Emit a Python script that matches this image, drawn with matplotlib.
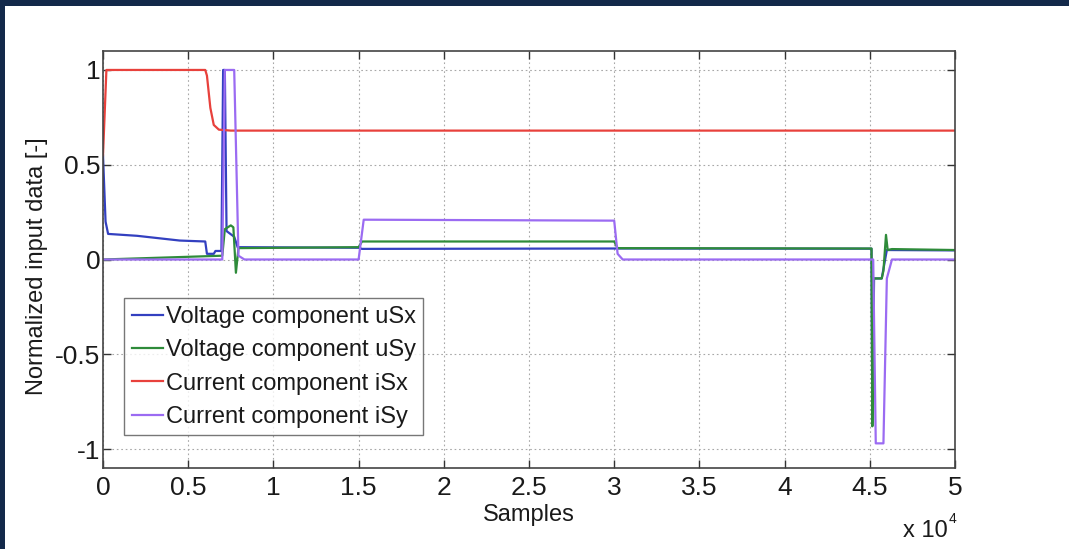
import numpy as np
import matplotlib.pyplot as plt
from matplotlib.patches import Rectangle

plt.rcParams['font.family'] = ['Liberation Sans', 'DejaVu Sans']

# breakpoints (x in samples)
usx_x = [0, 150, 300, 2000, 3500, 4500, 6000, 6100, 6500, 6600, 6950, 7050, 7150, 7250, 7700, 7900,
         15000, 15200, 30000, 45100, 45150, 45250, 45700, 46000, 50000]
usx_y = [0.55, 0.2, 0.135, 0.125, 0.11, 0.10, 0.095, 0.03, 0.03, 0.045, 0.045, 1.0, 1.0, 0.15, 0.12, 0.065,
         0.062, 0.056, 0.058, 0.057, -0.86, -0.1, -0.1, 0.05, 0.048]

usy_x = [0, 7000, 7150, 7500, 7650, 7800, 7950, 15000, 15200, 30000, 30200, 45100, 45150, 45220,
         45700, 45800, 45950, 46050, 46300, 50000]
usy_y = [0.0, 0.02, 0.16, 0.18, 0.17, -0.07, 0.06, 0.065, 0.095, 0.095, 0.06, 0.058, -0.88, -0.1,
         -0.1, -0.06, 0.13, 0.05, 0.055, 0.05]

isx_x = [0, 200, 6000, 6100, 6300, 6500, 6800, 7500, 50000]
isx_y = [0.55, 1.0, 1.0, 0.97, 0.8, 0.71, 0.685, 0.68, 0.68]

isy_x = [0, 7000, 7150, 7700, 7950, 8300, 15000, 15300, 30000, 30200, 30500, 45200, 45350, 45800,
         46000, 46300, 50000]
isy_y = [0, 0, 1.0, 1.0, 0.02, 0.0, 0, 0.21, 0.205, 0.03, 0.0, 0, -0.97, -0.97, -0.1, 0, 0]

labels = ['Voltage component uSx', 'Voltage component uSy',
          'Current component iSx', 'Current component iSy']
colors = ['#3340c0', '#2e8b3a', '#e8413c', '#9b6bf2']

xticks = [0, 5000, 10000, 15000, 20000, 25000, 30000, 35000, 40000, 45000, 50000]
xticklabels = ['0', '0.5', '1', '1.5', '2', '2.5', '3', '3.5', '4', '4.5', '5']
yticks = [-1, -0.5, 0, 0.5, 1]
yticklabels = ['-1', '-0.5', '0', '0.5', '1']

fig = plt.figure(figsize=(10.69, 5.49), dpi=100, facecolor='#13294a')
fig.patches.append(Rectangle((5/1069, 0), 1, 543/549, transform=fig.transFigure,
                             facecolor='white', edgecolor='none', zorder=-10))

ax = fig.add_axes([103/1069, 81/549, 852/1069, 417/549])
ax.set_zorder(5)
for xs, ys, c, lab in zip([usx_x, usy_x, isx_x, isy_x], [usx_y, usy_y, isx_y, isy_y], colors, labels):
    ax.plot(xs, ys, color=c, lw=1.6, label=lab)

ax.set_xlim(0, 50000)
ax.set_ylim(-1.1, 1.1)
ax.set_xticks(xticks)
ax.set_xticklabels(xticklabels)
ax.set_yticks(yticks)
ax.set_yticklabels(yticklabels)
ax.tick_params(direction='in', length=6, width=1, top=True, right=True,
               labelsize=19, colors='#333333', labelcolor='#1a1a1a')
ax.tick_params(axis='x', pad=6)
ax.tick_params(axis='y', pad=2)
ax.grid(True, color='#a8a8a8', lw=0.8, linestyle=(0, (1.5, 2.5)))
for s in ax.spines.values():
    s.set_color('#444444')
    s.set_linewidth(1.2)

ax.set_xlabel('Samples', fontsize=17, color='#1a1a1a', labelpad=3)
ax.set_ylabel('Normalized input data [-]', fontsize=17, color='#1a1a1a')
ax.yaxis.set_label_coords(-0.064, 0.485)

ax.text(0.992, -0.152, 'x 10', transform=ax.transAxes, ha='right', va='center', fontsize=17, color='#1a1a1a')
ax.text(0.993, -0.122, '4', transform=ax.transAxes, ha='left', va='center', fontsize=10, color='#1a1a1a')

leg = ax.legend(loc='upper left', bbox_to_anchor=(0.0246, 0.407), borderaxespad=0,
                fontsize=17, frameon=True, fancybox=False, edgecolor='#555555',
                handlelength=1.35, handletextpad=0.1, labelspacing=0.48, borderpad=0.32)
leg.get_frame().set_linewidth(1.0)
for t in leg.get_texts():
    t.set_color('#1a1a1a')

fig.savefig('out.png', dpi=100, facecolor=fig.get_facecolor())
